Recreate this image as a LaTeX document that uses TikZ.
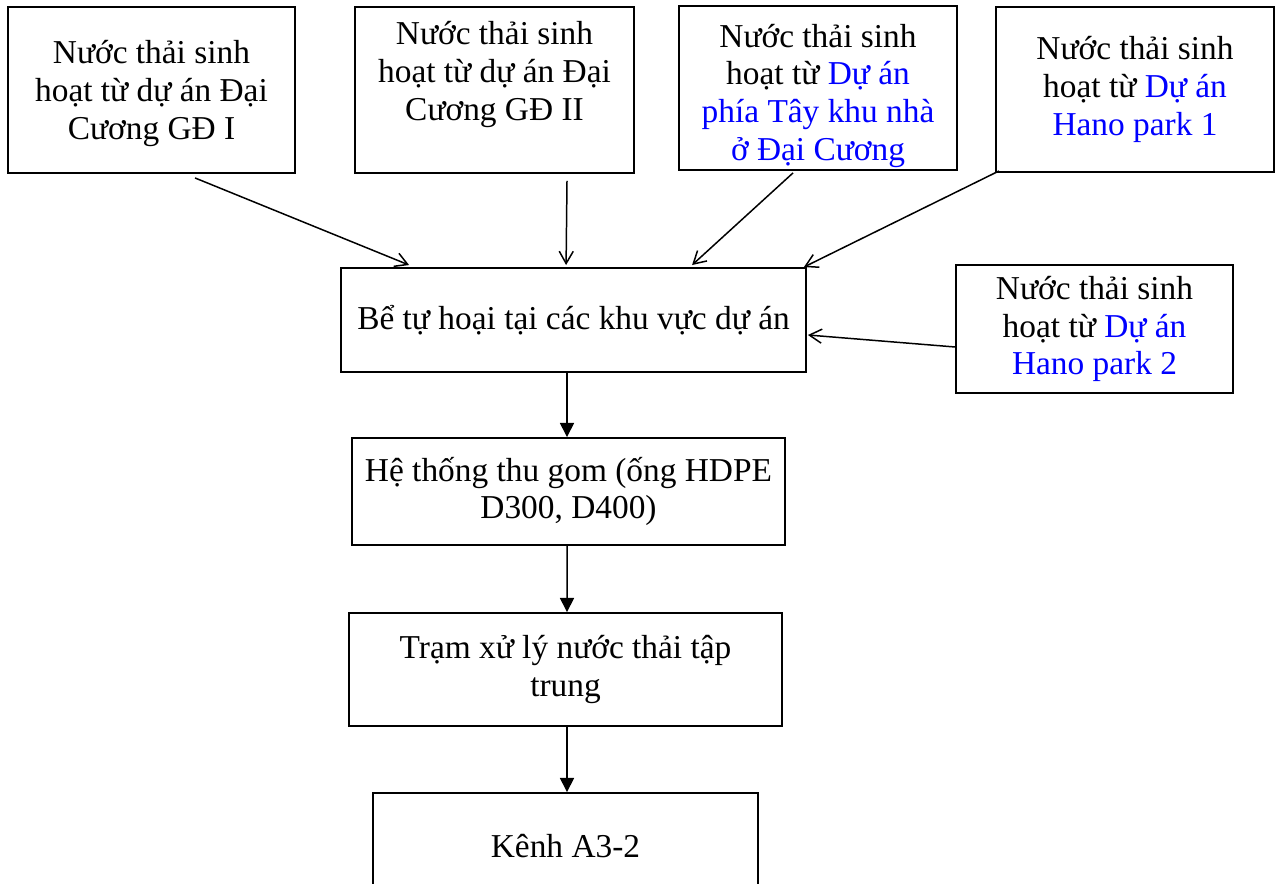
\documentclass[tikz,border=0pt]{standalone}
\usepackage{fontspec}
\setmainfont{Liberation Serif}
\usepackage{xcolor}
\usetikzlibrary{arrows.meta,positioning,calc}

\begin{document}
\begin{tikzpicture}[
    x=0.02cm, y=-0.02cm,
    box/.style={draw=black, line width=1.1pt, align=center, inner sep=0pt,
                font=\fontsize{19}{21.5}\selectfont},
    feed/.style={-{Straight Barb[length=7pt,width=8pt]}, line width=0.85pt, black},
    flow/.style={-{Triangle[length=8pt,width=8pt]}, line width=0.85pt, black}
]
\useasboundingbox (0,0) rectangle (1280,884);

% Sources
\node[box, minimum width=5.74cm, minimum height=3.32cm] (gd1) at (151.5,90)
    {\rule{0pt}{17pt}Nước thải sinh\\hoạt từ dự án Đại\\Cương GĐ I};
\node[box, minimum width=5.58cm, minimum height=3.32cm] (gd2) at (494.5,90)
    {Nước thải sinh\\hoạt từ dự án Đại\\Cương GĐ II\\\mbox{}};
\node[box, minimum width=5.56cm, minimum height=3.28cm] (tay) at (818,88)
    {\rule{0pt}{22pt}Nước thải sinh\\hoạt từ \textcolor{blue}{Dự án}\\\textcolor{blue}{phía Tây khu nhà}\\\textcolor{blue}{ở Đại Cương}};
\node[box, minimum width=5.56cm, minimum height=3.30cm] (hp1) at (1135,89.5)
    {Nước thải sinh\\hoạt từ \textcolor{blue}{Dự án}\\\textcolor{blue}{Hano park 1}};
\node[box, minimum width=5.54cm, minimum height=2.56cm] (hp2) at (1094.5,329)
    {Nước thải sinh\\hoạt từ \textcolor{blue}{Dự án}\\\textcolor{blue}{Hano park 2}};

% Main chain
\node[box, minimum width=9.30cm, minimum height=2.08cm] (be) at (573.5,320)
    {Bể tự hoại tại các khu vực dự án};
\node[box, minimum width=8.66cm, minimum height=2.14cm] (ht) at (568.5,491.5)
    {Hệ thống thu gom (ống HDPE\\D300, D400)};
\node[box, minimum width=8.66cm, minimum height=2.26cm] (tram) at (565.5,669.5)
    {Trạm xử lý nước thải tập\\trung};
\node[box, minimum width=7.70cm, minimum height=2.14cm] (kenh) at (565.5,846.5)
    {Kênh A3-2};

% Inflows
\draw[feed] ($(gd1.south)+(43.5,4)$) -- ($(be.north west)+(69,-2)$);
\draw[feed] ($(gd2.south)+(72.5,7)$) -- ($(be.north west)+(226,-2)$);
\draw[feed] ($(tay.south)+(-25,2)$) -- ($(be.north west)+(352,-2)$);
\draw[feed] ($(hp1.south west)+(4,-2)$) -- ($(be.north east)+(-3,0)$);
\draw[feed] ($(hp2.west)+(0,18)$) -- ($(be.east)+(1,15)$);

% Chain
\draw[flow] ($(be.south)+(-6.5,0)$) -- ($(ht.north)+(-1.5,0)$);
\draw[flow] ($(ht.south)+(-1.5,0)$) -- ($(tram.north)+(1.5,0)$);
\draw[flow] ($(tram.south)+(1.5,0)$) -- ($(kenh.north)+(1.5,0)$);

\end{tikzpicture}
\end{document}
